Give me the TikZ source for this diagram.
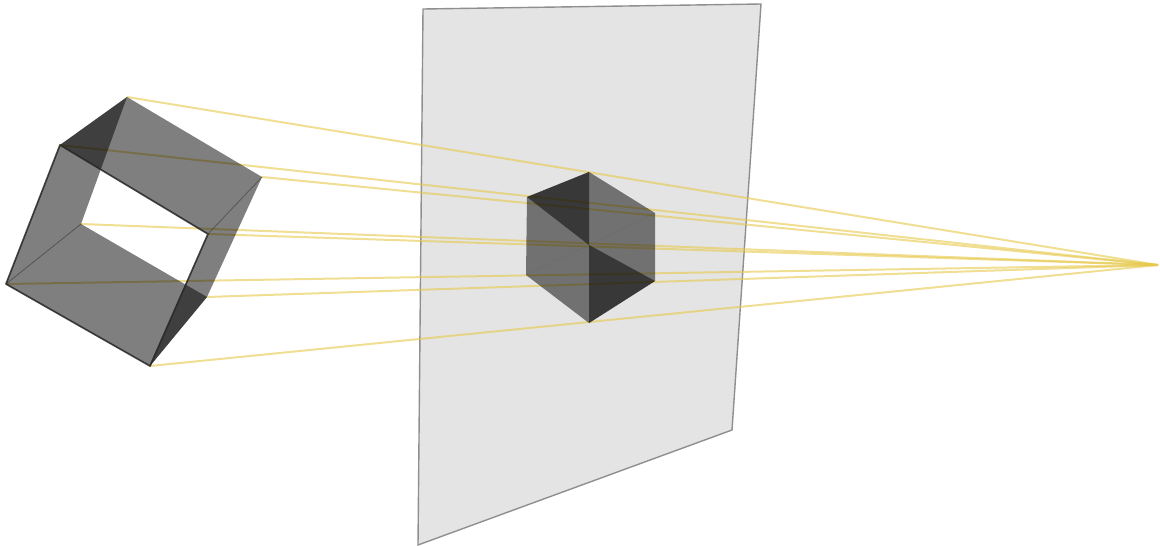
\documentclass[tikz,border=0pt]{standalone}
\usepackage{xcolor}
\definecolor{planefill}{HTML}{E4E4E4}
\definecolor{planeline}{HTML}{8F8F8F}
\definecolor{rayline}{HTML}{E6C84B}
\begin{document}
\begin{tikzpicture}[
	x=1pt, y=-1pt,
	plane/.style={draw=planeline, line width=1.4pt, fill=planefill},
	face/.style={fill=black, fill opacity=0.5},
	rim/.style={draw=black!85, line width=1.7pt, line join=round, opacity=0.85},
	seam/.style={draw=black!70, line width=0.9pt, opacity=0.7},
	ray/.style={draw=rayline, line width=2pt, opacity=0.6},
	]
	\useasboundingbox (0,0) rectangle (1160,546);
	% plane corners
	\coordinate (p1) at (423,9);
	\coordinate (p2) at (761,4);
	\coordinate (p3) at (732,430);
	\coordinate (p4) at (418,545);
	% cube corners
	\coordinate (a) at (127,97);
	\coordinate (b) at (60,145);
	\coordinate (c) at (262,177);
	\coordinate (d) at (208,234);
	\coordinate (e) at (6,284);
	\coordinate (f) at (150,366);
	\coordinate (g) at (81,224);
	\coordinate (h) at (207,297);
	% shadow corners on the plane
	\coordinate (sa) at (589,172);
	\coordinate (sb) at (527,197);
	\coordinate (sc) at (655,213);
	\coordinate (sm) at (589,245);
	\coordinate (se) at (526,275);
	\coordinate (sf) at (589,323);
	\coordinate (sh) at (655,281);
	\coordinate (apex) at (1158,265);
	
	\draw[plane] (p1) -- (p2) -- (p3) -- (p4) -- cycle;
	
	\foreach \corner in {a,b,c,d,e,f,g,h}
		\draw[ray] (\corner) -- (apex);
	
	\fill[face] (a) -- (c) -- (d) -- (b) -- cycle;
	\fill[face] (a) -- (g) -- (e) -- (b) -- cycle;
	\fill[face] (e) -- (g) -- (h) -- (f) -- cycle;
	\fill[face] (c) -- (d) -- (f) -- (h) -- cycle;
	\draw[seam] (e) -- (g);
	\draw[seam] (c) -- (d);
	\draw[rim] (b) -- (d) -- (f) -- (e) -- cycle;
	
	\fill[face] (sa) -- (sc) -- (sm) -- (sb) -- cycle;
	\fill[face] (sa) -- (sm) -- (se) -- (sb) -- cycle;
	\fill[face] (se) -- (sm) -- (sh) -- (sf) -- cycle;
	\fill[face] (sc) -- (sm) -- (sf) -- (sh) -- cycle;
\end{tikzpicture}
\end{document}
